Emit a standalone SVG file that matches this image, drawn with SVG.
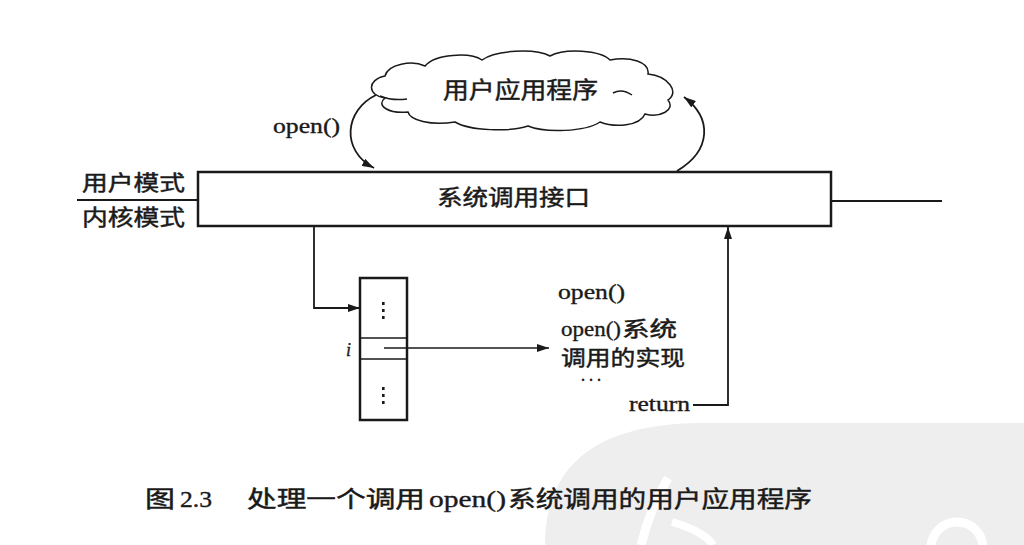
<svg xmlns="http://www.w3.org/2000/svg" width="1024" height="545" viewBox="0 0 1024 545">
  <defs>
    <style>
      .cjk { font-family: "Noto Sans CJK SC", "Liberation Serif", sans-serif; fill: #1a1a1a; stroke: #1a1a1a; stroke-width: 0.45; }
      .lat { font-family: "Liberation Serif", "Noto Sans CJK SC", serif; fill: #1a1a1a; stroke: #1a1a1a; stroke-width: 0.35; }
      .box { fill: #fff; stroke: #1a1a1a; stroke-width: 2.5; }
      .ln { fill: none; stroke: #1a1a1a; stroke-width: 1.8; }
      .thin { fill: none; stroke: #1a1a1a; stroke-width: 1.5; }
    </style>
    <marker id="arrow" viewBox="0 0 12 8" refX="12" refY="4" markerWidth="12" markerHeight="8" markerUnits="userSpaceOnUse" orient="auto">
      <path d="M0,0 L12,4 L0,8 z" fill="#1a1a1a"/>
    </marker>
  </defs>

  <rect x="0" y="0" width="1024" height="545" fill="#fff"/>

  <!-- faint background mark, lower right -->
  <g id="backdrop">
    <path d="M 545,545 C 545,470 590,424 700,423 L 1024,423 L 1024,545 Z" fill="#eeeeee"/>
    <path d="M 668,478 C 655,500 646,525 641,545" fill="none" stroke="#fff" stroke-width="9"/>
    <path d="M 672,522 C 690,527 708,536 713,545" fill="none" stroke="#fff" stroke-width="8"/>
    <circle cx="957" cy="548" r="26" fill="none" stroke="#fff" stroke-width="9"/>
  </g>

  <!-- mode divider lines -->
  <g id="mode-divider">
    <path class="ln" d="M 77,200 H 198"/>
    <path class="ln" d="M 831,201 H 942"/>
    <text class="cjk" x="82" y="190" font-size="21" textLength="103" lengthAdjust="spacingAndGlyphs">用户模式</text>
    <text class="cjk" x="82" y="225" font-size="22" textLength="103" lengthAdjust="spacingAndGlyphs">内核模式</text>
  </g>

  <!-- user application cloud -->
  <g id="user-app">
    <path class="thin" fill="#fff" d="M 385,98
      C 368,96 366,80 385,76
      C 388,64 412,60 425,66
      C 435,54 470,52 482,60
      C 495,50 535,48 550,56
      C 565,48 600,50 610,60
      C 630,56 650,62 648,74
      C 668,76 680,92 668,100
      C 676,110 660,118 645,114
      C 640,126 615,128 600,122
      C 585,132 545,133 528,126
      C 510,132 470,131 455,122
      C 430,126 410,120 408,112
      C 390,114 375,106 385,98 Z"/>
    <path class="thin" d="M 380,96 Q 392,101 407,99"/>
    <path class="thin" d="M 613,93 Q 622,88 632,95"/>
    <text class="cjk" x="443" y="98" font-size="23" textLength="155" lengthAdjust="spacingAndGlyphs">用户应用程序</text>
  </g>

  <!-- system call interface -->
  <g id="syscall-interface">
    <rect class="box" x="198" y="172" width="633" height="54"/>
    <text class="cjk" x="437" y="205" font-size="22" textLength="153" lengthAdjust="spacingAndGlyphs">系统调用接口</text>
  </g>

  <!-- system call table -->
  <g id="syscall-table">
    <rect class="box" x="360" y="278" width="47" height="142" stroke-width="2.2"/>
    <path class="thin" d="M 360,338 H 407 M 360,359 H 407"/>
    <g fill="#1a1a1a">
      <rect x="382" y="302" width="2.6" height="3"/>
      <rect x="382" y="309" width="2.6" height="3"/>
      <rect x="382" y="316" width="2.6" height="3"/>
      <rect x="382" y="387" width="2.6" height="3"/>
      <rect x="382" y="394" width="2.6" height="3"/>
      <rect x="382" y="401" width="2.6" height="3"/>
    </g>
    <text class="lat" x="346" y="356" font-size="18" font-style="italic">i</text>
  </g>

  <!-- open() implementation -->
  <g id="open-impl">
    <text class="lat" x="558" y="299" font-size="21" textLength="67" lengthAdjust="spacingAndGlyphs">open()</text>
    <text class="lat" x="561" y="336" font-size="21" textLength="60" lengthAdjust="spacingAndGlyphs">open()</text>
    <text class="cjk" x="622" y="336" font-size="21" textLength="55" lengthAdjust="spacingAndGlyphs">系统</text>
    <text class="cjk" x="561" y="365" font-size="21" textLength="124" lengthAdjust="spacingAndGlyphs">调用的实现</text>
    <text class="lat" x="580" y="386" font-size="18" textLength="22" lengthAdjust="spacing">···</text>
    <text class="lat" x="629" y="411" font-size="21" textLength="61" lengthAdjust="spacingAndGlyphs">return</text>
  </g>

  <!-- connectors -->
  <g id="connectors">
    <path class="ln" d="M 376,95 C 345,110 340,150 374,168" marker-end="url(#arrow)"/>
    <path class="ln" d="M 677,171 C 712,150 712,118 684,97" marker-end="url(#arrow)"/>
    <text class="lat" x="273" y="133" font-size="21" textLength="67" lengthAdjust="spacingAndGlyphs">open()</text>
    <path class="ln" d="M 314,226 V 308 H 360" marker-end="url(#arrow)"/>
    <path class="thin" d="M 384,348 H 549" marker-end="url(#arrow)"/>
    <path class="ln" d="M 693,405 H 728 V 227" marker-end="url(#arrow)"/>
  </g>

  <!-- caption -->
  <g id="caption">
    <text class="cjk" x="145" y="507" font-size="23" textLength="30" lengthAdjust="spacingAndGlyphs">图</text>
    <text class="lat" x="180" y="507" font-size="23" textLength="32" lengthAdjust="spacingAndGlyphs">2.3</text>
    <text class="cjk" x="247" y="507" font-size="23" textLength="178" lengthAdjust="spacingAndGlyphs">处理一个调用</text>
    <text class="lat" x="429" y="507" font-size="23" textLength="77" lengthAdjust="spacingAndGlyphs">open()</text>
    <text class="cjk" x="508" y="507" font-size="23" textLength="304" lengthAdjust="spacingAndGlyphs">系统调用的用户应用程序</text>
  </g>
</svg>
